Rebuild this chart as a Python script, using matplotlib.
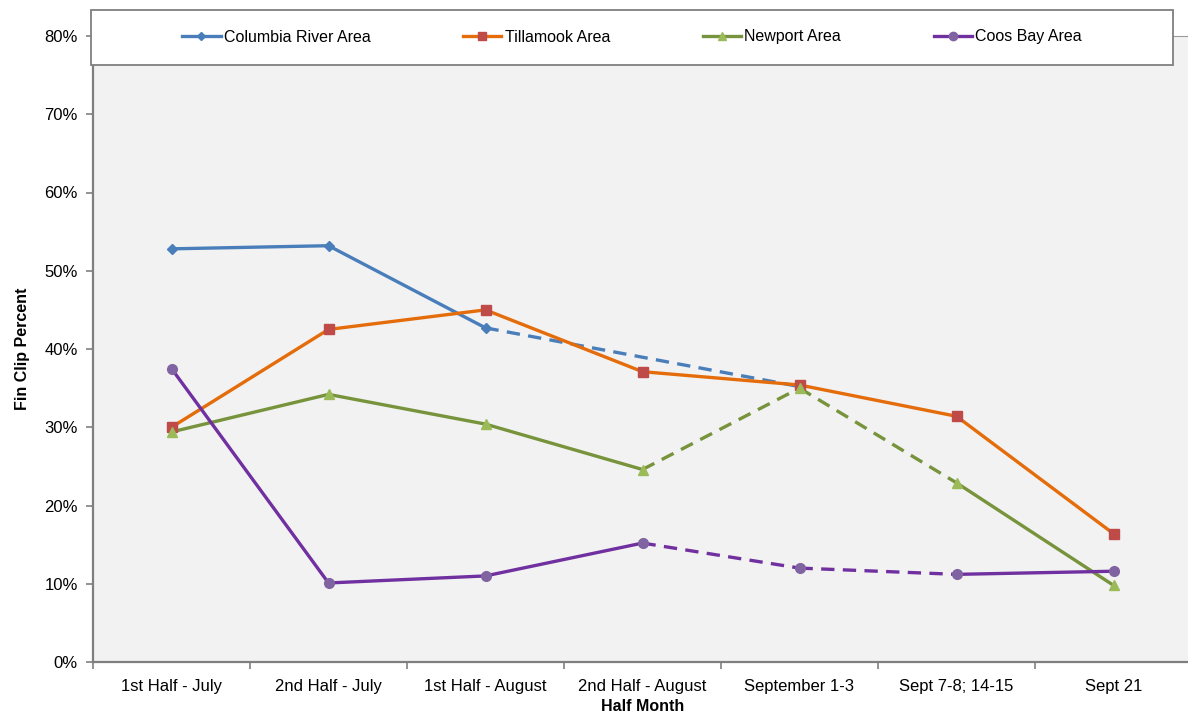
import numpy as np
import matplotlib.pyplot as plt
from matplotlib.lines import Line2D
from matplotlib.patches import Rectangle

plt.rcParams['font.family'] = ['Liberation Sans', 'DejaVu Sans']

# Dados
categorias = ["1st Half - July", "2nd Half - July", "1st Half - August",
              "2nd Half - August", "September 1-3", "Sept 7-8; 14-15", "Sept 21"]
columbia = [52.8, 53.2, 42.7, np.nan, 35.2, np.nan, np.nan]
tillamook = [30.0, 42.5, 45.0, 37.1, 35.4, 31.4, 16.4]
newport = [29.4, 34.2, 30.4, 24.6, 35.0, 22.9, 9.8]
coos_bay = [37.5, 10.1, 11.0, 15.2, 12.0, 11.2, 11.6]

# segmentos tracejados (indice inicial, indice final)
trac_columbia = [(2, 4)]
trac_tillamook = []
trac_newport = [(3, 4), (4, 5)]
trac_coos = [(3, 4), (4, 5)]

series = [
    ("Columbia River Area", columbia, trac_columbia, '#4a7ebb', '#4a7ebb', 'D', 5),
    ("Tillamook Area", tillamook, trac_tillamook, '#e46c0a', '#be4b48', 's', 7),
    ("Newport Area", newport, trac_newport, '#77933c', '#9bbb59', '^', 7),
    ("Coos Bay Area", coos_bay, trac_coos, '#7030a0', '#8064a2', 'o', 7),
]

fig = plt.figure(figsize=(11.88, 7.16), dpi=100)
ax = fig.add_axes([93/1188, 54/716, 1099/1188, 626/716])
ax.set_facecolor('#f2f2f2')

x = np.arange(len(categorias))
handles = []
for nome, vals, trac, cor, cor_m, mk, ms in series:
    v = np.array(vals)
    idx = [i for i in range(len(v)) if not np.isnan(v[i])]
    for a, b in zip(idx[:-1], idx[1:]):
        ls = (0, (4, 2.5)) if (a, b) in trac else '-'
        ax.plot([x[a], x[b]], [v[a], v[b]], color=cor, lw=2.4, linestyle=ls,
                solid_capstyle='round', zorder=2)
    ax.plot(x, v, linestyle='none', marker=mk, markersize=ms,
            markerfacecolor=cor_m, markeredgecolor=cor_m, zorder=3)
    handles.append(Line2D([], [], color=cor, lw=2.4, marker=mk, markersize=ms - 1,
                          markerfacecolor=cor_m, markeredgecolor=cor_m, label=nome))

ax.set_xlim(-0.5, 6.5)
ax.set_ylim(0, 80)
ax.set_yticks(np.arange(0, 81, 10))
ax.set_yticklabels([f"{t}%" for t in range(0, 81, 10)], fontsize=12)
ax.set_xticks(x)
ax.set_xticklabels(categorias, fontsize=12)
ax.set_xticks(np.arange(-0.5, 7, 1), minor=True)
ax.tick_params(axis='x', which='major', length=0, pad=12)
ax.tick_params(axis='x', which='minor', length=5, color='#808080', width=1.2)
ax.tick_params(axis='y', length=5, color='#808080', width=1.2, pad=6)

for lado in ['left', 'bottom']:
    ax.spines[lado].set_color('#7f7f7f')
    ax.spines[lado].set_linewidth(1.6)
ax.spines['top'].set_color('#9a9a9a')
ax.spines['right'].set_visible(False)

ax.set_xlabel("Half Month", fontsize=11.5, fontweight='bold', labelpad=4)
ax.set_ylabel("Fin Clip Percent", fontsize=11.5, fontweight='bold', labelpad=10)

# Caixa da legenda
caixa = Rectangle((91/1188, 651/716), 1082/1188, 55/716, transform=fig.transFigure,
                  facecolor='white', edgecolor='#7f7f7f', lw=1.3, zorder=5)
fig.patches.append(caixa)
leg = fig.legend(handles=handles, loc='center', bbox_to_anchor=(632/1188, 679/716),
                 ncol=4, frameon=False, fontsize=11.5, handlelength=2.4,
                 handletextpad=0.2, columnspacing=5.8)
leg.set_zorder(6)

plt.savefig("out.png", dpi=100)
